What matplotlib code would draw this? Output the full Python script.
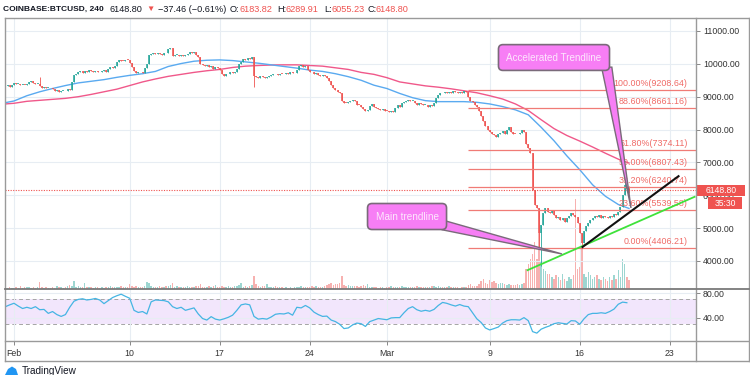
import numpy as np
import matplotlib
matplotlib.use("Agg")
import matplotlib.pyplot as plt
from matplotlib.patches import Polygon, Rectangle
from matplotlib.transforms import blended_transform_factory

plt.rcParams['font.family'] = ['Liberation Sans', 'DejaVu Sans']

# ---------------- data ----------------
# 4-hour closes (USD). First row: Jan 31 from 08:00; then one row per day Feb 1 .. Mar 19
close_rows = [
    [9330, 9370, 9310, 9350],
    [9420, 9380, 9400, 9350, 9370, 9360],      # Feb 1
    [9380, 9440, 9470, 9420, 9380, 9400],
    [9330, 9280, 9300, 9260, 9280, 9250],
    [9230, 9180, 9200, 9150, 9170, 9180],
    [9160, 9220, 9200, 9450, 9650, 9700],
    [9740, 9780, 9720, 9790, 9760, 9800],
    [9780, 9750, 9790, 9760, 9740, 9770],
    [9800, 9760, 9850, 9900, 9880, 9920],
    [10050, 10120, 10100, 10080, 10130, 10110],
    [10020, 9900, 9780, 9720, 9750, 9740],     # Feb 10
    [9710, 9860, 10000, 10270, 10300, 10330],
    [10310, 10340, 10300, 10280, 10330, 10320],
    [10450, 10480, 10240, 10260, 10280, 10250],
    [10270, 10240, 10280, 10300, 10360, 10340],
    [10370, 10280, 10200, 10000, 9960, 9920],
    [9960, 9900, 9940, 9850, 9900, 9870],
    [9800, 9680, 9620, 9680, 9700, 9740],      # Feb 17
    [9720, 9750, 9850, 10000, 10050, 10150],
    [10120, 10180, 10150, 10200, 9620, 9600],
    [9580, 9620, 9590, 9560, 9600, 9620],
    [9660, 9700, 9680, 9650, 9700, 9690],
    [9680, 9720, 9700, 9740, 9710, 9720],
    [9800, 9920, 9960, 9900, 9940, 9820],
    [9760, 9740, 9700, 9720, 9660, 9640],      # Feb 24
    [9660, 9620, 9560, 9480, 9350, 9250],
    [9200, 9150, 9100, 8880, 8820, 8800],
    [8850, 8880, 8900, 8860, 8760, 8740],
    [8700, 8620, 8580, 8600, 8720, 8780],
    [8700, 8650, 8620, 8600, 8630, 8580],
    [8560, 8530, 8570, 8520, 8650, 8740],      # Mar 1
    [8700, 8800, 8850, 8880, 8900, 8860],
    [8880, 8800, 8760, 8820, 8780, 8750],
    [8760, 8700, 8740, 8720, 8800, 8950],
    [9050, 9120, 9100, 9140, 9120, 9150],
    [9110, 9160, 9130, 9100, 9140, 9120],
    [9160, 9130, 9000, 8880, 8840, 8760],
    [8700, 8550, 8420, 8250, 8120, 8000],
    [7930, 7850, 7820, 7760, 7870, 7900],      # Mar 9
    [7950, 7880, 8000, 8080, 7930, 7880],
    [7870, 7850, 7890, 7990, 7920, 7550],
    [7450, 7300, 6150, 5700, 5600, 4850],
    [5100, 5450, 5600, 5500, 5450, 5550],
    [5400, 5300, 5350, 5250, 5300, 5200],
    [5300, 5380, 5450, 5400, 5350, 5150],
    [4850, 4550, 4900, 5050, 5150, 5250],      # Mar 16
    [5300, 5380, 5330, 5400, 5320, 5360],
    [5340, 5300, 5380, 5350, 5420, 5400],
    [5500, 5650, 6000, 6300, 6183.82, 6148.80],
]
first_open = 9300

# 4-hour volume (BTC), same layout
volume_rows = [
    [500, 250, 500, 250],
    [250, 500, 250, 750, 250, 500],
    [500, 500, 250, 500, 250, 500],
    [1750, 500, 250, 500, 250, 250],
    [500, 250, 750, 500, 500, 250],
    [500, 750, 1000, 750, 2000, 500],
    [750, 500, 500, 1500, 500, 500],
    [500, 250, 500, 500, 250, 500],
    [250, 500, 500, 750, 500, 500],
    [500, 500, 750, 500, 500, 500],
    [1250, 750, 500, 750, 500, 500],
    [500, 750, 1750, 1500, 750, 500],
    [500, 500, 750, 500, 500, 750],
    [750, 1000, 1500, 500, 750, 500],
    [500, 500, 500, 750, 500, 500],
    [500, 750, 750, 1250, 500, 500],
    [500, 750, 500, 750, 1000, 500],
    [500, 750, 500, 500, 750, 500],
    [500, 750, 750, 1000, 1500, 500],
    [750, 500, 750, 1000, 3250, 1250],
    [750, 500, 750, 750, 1250, 500],
    [500, 500, 750, 500, 500, 500],
    [250, 500, 250, 500, 250, 500],
    [500, 500, 750, 500, 500, 500],
    [500, 750, 500, 750, 500, 500],
    [500, 750, 1000, 1250, 1500, 1000],
    [1250, 1250, 1500, 3250, 1000, 750],
    [1000, 750, 750, 750, 750, 500],
    [750, 1000, 750, 1250, 500, 500],
    [500, 500, 250, 500, 500, 250],
    [500, 500, 750, 500, 500, 500],
    [500, 750, 500, 500, 500, 500],
    [500, 500, 750, 500, 500, 500],
    [500, 500, 500, 750, 750, 500],
    [750, 500, 500, 500, 500, 750],
    [500, 500, 500, 500, 250, 500],
    [500, 500, 1000, 1250, 750, 750],
    [750, 1250, 2000, 2500, 1500, 1250],
    [2250, 1750, 2000, 1500, 1250, 1500],
    [1500, 1250, 1000, 1250, 1000, 1000],
    [1000, 1250, 1000, 1250, 1500, 5000],
    [6250, 7500, 8750, 11750, 7500, 14000],
    [6750, 5000, 4500, 3750, 3750, 3000],
    [2500, 3500, 3000, 2250, 3750, 2500],
    [2000, 3000, 2500, 3500, 22500, 5000],
    [5500, 10000, 3750, 3000, 4250, 3500],
    [2500, 3000, 3500, 2500, 2250, 3000],
    [2500, 2000, 3000, 2250, 3500, 2500],
    [4750, 3000, 7500, 6250, 3000, 2250],
]

# notable wick extremes: (day index from Feb 1, 4h slot) -> price
wick_high = {(2, 0): 9600, (47, 3): 6420, (47, 5): 6289.91}
wick_low = {(18, 4): 9300, (40, 5): 4400, (41, 0): 3858, (44, 1): 4406.21, (47, 5): 6055.23}

# moving averages, one value per day start (plus first and last bar)
ma_fast = [8820,
           8870, 9030, 9150, 9250, 9340, 9420, 9470, 9520, 9590, 9650,
           9700, 9770, 9920, 10010, 10080, 10110, 10120, 10100, 10060, 10020,
           9970, 9920, 9870, 9810, 9770, 9700, 9610, 9500, 9350, 9250,
           9100, 8970, 8880, 8850, 8850, 8850, 8830, 8780, 8700, 8600,
           8450, 8070, 7660, 7200, 6780, 6320, 5970, 5720,
           5600]
ma_slow = [8780,
           8800, 8860, 8890, 8920, 8950, 9000, 9070, 9150, 9230, 9340,
           9450, 9540, 9620, 9680, 9740, 9790, 9830, 9890, 9930, 9950,
           9965, 9970, 9970, 9950, 9930, 9880, 9830, 9740, 9680, 9580,
           9450, 9390, 9330, 9290, 9240, 9180, 9120, 9030, 8930, 8780,
           8580, 8300, 8030, 7820, 7650, 7470, 7280, 7100,
           6980]

# RSI every 8 hours from Jan 31 08:00
rsi_values = [58, 61,
    63.6, 59, 55, 57, 55, 58, 53, 53.5, 47, 50, 45, 42, 45, 57, 67,
    70, 71, 69, 70, 71.5, 69, 63, 68, 73, 76, 78.5, 75, 71.8, 52, 48.5,
    50, 46, 66, 69, 68.5, 68, 66, 58, 55, 57, 52, 54, 56, 46, 38.5,
    36, 41.6, 37.5, 36, 38, 40.5, 44, 52, 61, 62.5, 61, 42, 37.5, 38.5, 37.5,
    41, 45.5, 46.5, 46, 48, 44, 57, 56, 60, 56, 49, 45, 42, 42.5, 36,
    33.5, 29, 22, 23, 28, 31, 30, 25.5, 33.4, 36, 38.5, 37.5, 36.5, 39.5, 40,
    40, 48, 55, 58, 53, 50.5, 52, 50.5, 53.5, 60, 65, 63.5, 61, 59, 61.5,
    59, 58, 48, 38, 32, 23, 19.7, 22, 24.5, 31, 35, 36.5, 36.5, 36, 40,
    35, 17, 14.5, 21, 24, 26.5, 30, 31.5, 30.5, 29.5, 35, 34.5, 29, 38, 45,
    47, 47, 48, 47, 50, 54, 62, 65.5, 64.5]

fib_labels = ["100.00%", "88.60%", "61.80%", "50.00%", "38.20%", "23.60%", "0.00%"]
fib_prices = [9208.64, 8661.16, 7374.11, 6807.43, 6240.74, 5539.58, 4406.21]
fib_start_day = 35.33

black_days = [44.15, 51.75]
black_prices = [4406.21, 6600]
green_days = [39.88, 53.0]
green_prices = [3710, 5965]

last_price = 6148.80
countdown = "35:30"

date_ticks = [0, 9, 16, 23, 29, 37, 44, 51]
date_labels = ["Feb", "10", "17", "24", "Mar", "9", "16", "23"]
price_ticks = [4000, 5000, 6000, 7000, 8000, 9000, 10000, 11000]

# ---------------- derived series ----------------
closes = np.array([c for row in close_rows for c in row], dtype=float)
volumes = np.array([v for row in volume_rows for v in row], dtype=float)
n = len(closes)
t = -4 / 6 + np.arange(n) / 6.0
opens = np.concatenate([[first_open], closes[:-1]])
highs = np.maximum(opens, closes)
lows = np.minimum(opens, closes)
for (k, s), v in wick_high.items():
    highs[4 + 6 * k + s] = v
for (k, s), v in wick_low.items():
    lows[4 + 6 * k + s] = v
up = closes >= opens

ma_t = np.array([-4 / 6] + list(range(48)) + [47 + 5 / 6])
rsi_t = -4 / 6 + np.arange(len(rsi_values)) / 3.0

GREEN = '#26a69a'
RED = '#ef5350'

# ---------------- figure ----------------
W, H = 750, 375
fig = plt.figure(figsize=(7.5, 3.75), dpi=100)
fig.patch.set_facecolor('white')

L, R = 4.5, 696.0
PT, PB = 18.0, 288.5
RB = 340.5
XL = ((L - 14) / 12.857, (R - 14) / 12.857)

ax_vol = fig.add_axes([L / W, 1 - PB / H, (R - L) / W, (PB - PT) / H])
ax = fig.add_axes([L / W, 1 - PB / H, (R - L) / W, (PB - PT) / H], sharex=ax_vol)
ax_rsi = fig.add_axes([L / W, 1 - RB / H, (R - L) / W, (RB - PB) / H], sharex=ax_vol)

ax_vol.set_zorder(0)
ax.set_zorder(1)
ax.patch.set_visible(False)
ax_vol.set_xlim(*XL)
ax_vol.set_ylim(0, (PB - PT) * 250)
ax_vol.axis('off')

p_top = 11000 + (31 - PT) * 1000 / 32.857
p_bot = 11000 - (PB - 31) * 1000 / 32.857
ax.set_ylim(p_bot, p_top)
r_top = 80 + (293.3 - PB) / 0.608
r_bot = 80 - (RB - 293.3) / 0.608
ax_rsi.set_ylim(r_bot, r_top)

GRID = '#e7edf3'
for a in (ax, ax_rsi):
    for sp in a.spines.values():
        sp.set_visible(False)
    a.set_xticks(date_ticks)
    a.grid(True, color=GRID, lw=0.8, zorder=0)
    a.yaxis.tick_right()
    a.tick_params(axis='y', length=3, width=0.7, color='#888888', labelsize=6.3,
                  labelcolor='#333333', pad=2)

ax.set_yticks(price_ticks)
ax.set_yticklabels([f"{p:.2f}" for p in price_ticks])
ax.tick_params(axis='x', bottom=False, labelbottom=False)

ax_rsi.set_yticks([40, 80])
ax_rsi.set_yticklabels(["40.00", "80.00"])
ax_rsi.set_xticklabels(date_labels)
ax_rsi.tick_params(axis='x', length=3, width=0.7, color='#888888', labelsize=6.3,
                   labelcolor='#333333', pad=3)

# volume
vcol = [(0.149, 0.651, 0.604, 0.45) if u else (0.937, 0.325, 0.314, 0.45) for u in up]
ax_vol.bar(t, volumes, width=0.12, color=vcol, linewidth=0)

# moving averages
ax.plot(ma_t, ma_slow, color='#f0588a', lw=1.0, zorder=2.5)
ax.plot(ma_t, ma_fast, color='#5aaaf0', lw=1.0, zorder=2.5)

# candles
ccol = [GREEN if u else RED for u in up]
body_lo = np.minimum(opens, closes)
body_hi = np.maximum(opens, closes)
body_hi = np.maximum(body_hi, body_lo + 25)
ax.vlines(t, lows, highs, colors=ccol, lw=0.6, zorder=3)
ax.vlines(t, body_lo, body_hi, colors=ccol, lw=1.15, zorder=3.1)

# fib levels
FIB = '#f07b76'
ax.hlines(fib_prices, fib_start_day, XL[1], colors=FIB, lw=0.9, zorder=3.3)
for lab, p in zip(fib_labels, fib_prices):
    ax.annotate(f"{lab}({p:.2f})", xy=(XL[1], p), xytext=(-6, 1.5),
                textcoords='offset points', ha='right', va='bottom',
                fontsize=6.4, color='#f06a66', zorder=3.4)

# last price dotted line
ax.axhline(last_price, color=RED, lw=0.8, ls=(0, (1, 1.3)), zorder=3.2)

# trendlines
ax.plot(green_days, green_prices, color='#3ee23a', lw=1.3, zorder=4, solid_capstyle='butt')
ax.plot(black_days, black_prices, color='#111111', lw=1.5, zorder=4.1, solid_capstyle='butt')

# callouts
MAG = '#f77ef5'
EDGE = '#7a6a7a'
acc_tail = [(45.7, 9900), (46.5, 9900), (47.99, 5614)]
main_tail = [(33.3, 5250), (33.3, 4950), (42.62, 4214)]
for tail in (acc_tail, main_tail):
    ax.add_patch(Polygon(tail, closed=True, fc=MAG, ec=EDGE, lw=1.0, zorder=5))
box = dict(boxstyle='round,pad=0.8,rounding_size=0.45', fc=MAG, ec=EDGE, lw=1.2)
ax.text(42.0, 10193, "Accelerated Trendline", ha='center', va='center', fontsize=7.1,
        color='#fde8fd', bbox=box, zorder=6)
ax.text(30.57, 5354, "Main trendline", ha='center', va='center', fontsize=7.2,
        color='#fde8fd', bbox=box, zorder=6)

# RSI pane
ax_rsi.axhspan(30, 70, color='#f2e6fc', lw=0, zorder=0.6)
for lvl in (30, 70):
    ax_rsi.axhline(lvl, color='#a5a5a5', lw=0.7, ls=(0, (4, 3)), zorder=1)
ax_rsi.plot(rsi_t, rsi_values, color='#45b5e3', lw=0.9, zorder=3)

# price labels on axis
bt = blended_transform_factory(ax.transAxes, ax.transData)
ppx = 1000 / 32.857
ax.add_patch(Rectangle(((697 - L) / (R - L), last_price - 5.8 * ppx), 48 / (R - L), 11.6 * ppx,
                       transform=bt, fc=RED, ec='none', clip_on=False, zorder=10))
ax.text((721 - L) / (R - L), last_price, f"{last_price:.2f}", transform=bt, ha='center',
        va='center', fontsize=6.2, color='white', clip_on=False, zorder=11)
ax.add_patch(Rectangle(((708 - L) / (R - L), last_price - 18.5 * ppx), 34 / (R - L), 12 * ppx,
                       transform=bt, fc=RED, ec='none', clip_on=False, zorder=10))
ax.text((725 - L) / (R - L), last_price - 12.8 * ppx, countdown, transform=bt, ha='center',
        va='center', fontsize=6.2, color='white', clip_on=False, zorder=11)

# ---------------- overlay: frame, header, footer ----------------
ov = fig.add_axes([0, 0, 1, 1], zorder=20)
ov.set_xlim(0, W)
ov.set_ylim(H, 0)
ov.axis('off')
ov.patch.set_visible(False)
FR = '#9a9a9a'
ov.plot([L, 748.5], [PT, PT], color=FR, lw=1.0)
ov.plot([L, L], [PT, 361], color=FR, lw=1.0)
ov.plot([748.5, 748.5], [PT, 361], color=FR, lw=1.0)
ov.plot([L, 748.5], [361, 361], color=FR, lw=1.0)
ov.plot([R, R], [PT, 361], color=FR, lw=1.0)
ov.plot([L, 748.5], [PB, PB], color='#7a7a7a', lw=1.3)
ov.plot([L, 748.5], [RB, RB], color=FR, lw=1.0)

DARK = '#131722'
hdr = [
    (3, "COINBASE:BTCUSD, 240", DARK, 'bold', 6.0),
    (109, "6148.80", DARK, 'normal', 6.6),
    (146, "\u25BC", RED, 'normal', 6.0),
    (158, "\u221237.46 (\u22120.61%)", DARK, 'normal', 6.6),
    (230, "O:", DARK, 'normal', 6.6),
    (240, "6183.82", RED, 'normal', 6.6),
    (277, "H:", DARK, 'normal', 6.6),
    (286, "6289.91", RED, 'normal', 6.6),
    (324, "L:", DARK, 'normal', 6.6),
    (331, "6055.23", RED, 'normal', 6.6),
    (367, "C:", DARK, 'normal', 6.6),
    (376, "6148.80", RED, 'normal', 6.6),
]
for x, s, c, w, fs in hdr:
    ov.text(x, 9.5, s, color=c, fontweight=w, fontsize=fs, ha='left', va='center')

ov.add_patch(Polygon([(5, 375), (8, 369), (12, 366.5), (16, 369), (18, 375)], closed=True,
                     fc='#2196f3', ec='none'))
ov.text(22, 366.5, "TradingView", fontsize=7.2, color=DARK, ha='left', va='top')

fig.savefig("out.png", dpi=100)
